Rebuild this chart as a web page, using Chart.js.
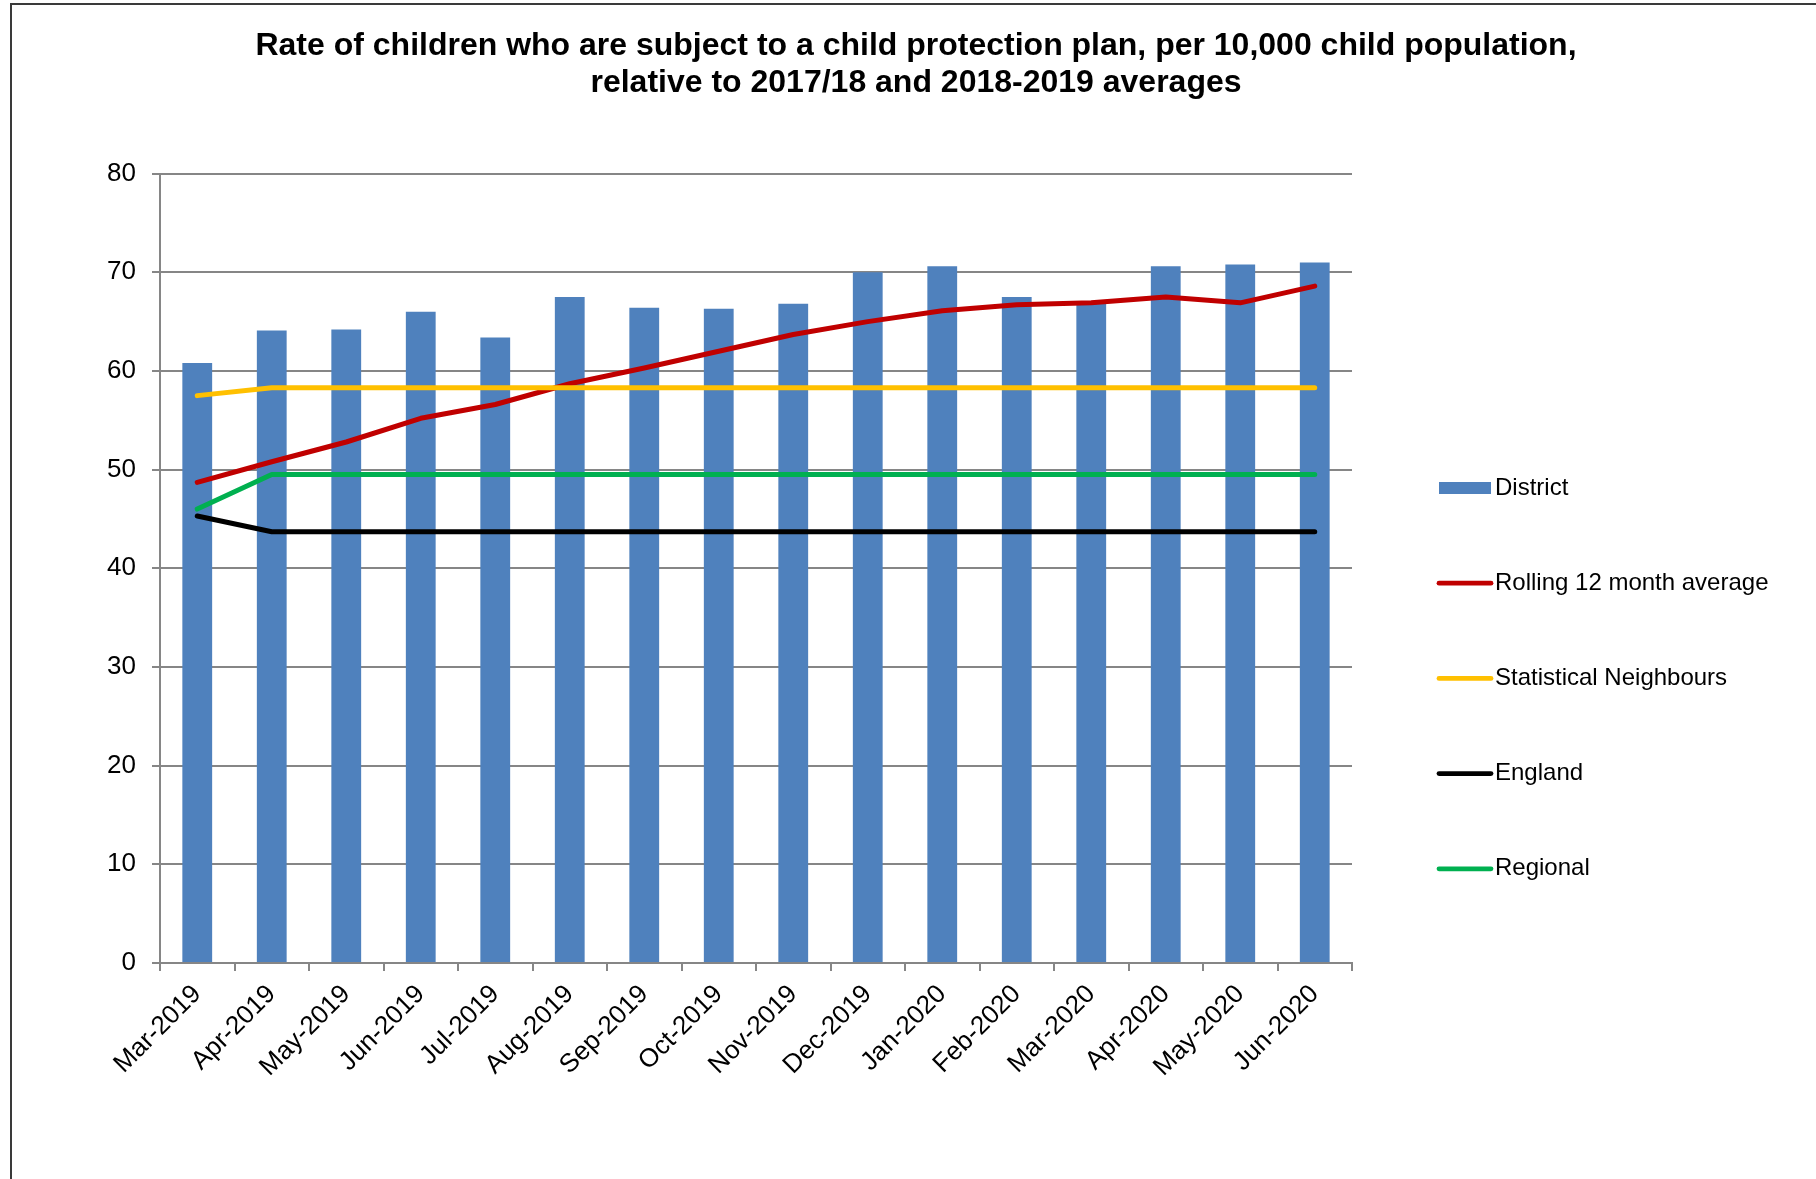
<!DOCTYPE html>
<html>
<head>
<meta charset="utf-8">
<script src="https://cdn.jsdelivr.net/npm/chart.js@4.4.0/dist/chart.umd.min.js"></script>
<style>
  html, body { margin: 0; padding: 0; background: #fff; overflow: hidden; }
  #frame {
    position: absolute; left: 10px; top: 3px;
    border-left: 2px solid #3a3a3a; border-top: 2px solid #3a3a3a;
    width: 1808px; height: 1174px;
  }
  canvas { display: block; }
</style>
</head>
<body>
<div id="frame"><canvas id="myChart" width="1808" height="1174"></canvas></div>
<script>
// datos
const months = ['Mar-2019', 'Apr-2019', 'May-2019', 'Jun-2019', 'Jul-2019', 'Aug-2019', 'Sep-2019', 'Oct-2019',
  'Nov-2019', 'Dec-2019', 'Jan-2020', 'Feb-2020', 'Mar-2020', 'Apr-2020', 'May-2020', 'Jun-2020'];
const district = [60.8, 64.1, 64.2, 66.0, 63.4, 67.5, 66.4, 66.3, 66.8, 70.0, 70.6, 67.5, 66.8, 70.6, 70.8, 71.0];
const rolling = [48.7, 50.8, 52.8, 55.2, 56.6, 58.7, 60.3, 62.0, 63.7, 65.0, 66.1, 66.7, 66.9, 67.5, 66.9, 68.6];
const statNeighbours = [57.5, 58.3, 58.3, 58.3, 58.3, 58.3, 58.3, 58.3, 58.3, 58.3, 58.3, 58.3, 58.3, 58.3, 58.3, 58.3];
const england = [45.3, 43.7, 43.7, 43.7, 43.7, 43.7, 43.7, 43.7, 43.7, 43.7, 43.7, 43.7, 43.7, 43.7, 43.7, 43.7];
const regional = [46.0, 49.5, 49.5, 49.5, 49.5, 49.5, 49.5, 49.5, 49.5, 49.5, 49.5, 49.5, 49.5, 49.5, 49.5, 49.5];
const yTicks = [0, 10, 20, 30, 40, 50, 60, 70, 80];

const FONT = '"Liberation Sans", Arial, sans-serif';
const GRID = '#868686';

const lineSet = (label, data, color, order) => ({
  type: 'line',
  label: label,
  data: data,
  borderColor: color,
  backgroundColor: color,
  borderWidth: 5,
  borderCapStyle: 'round',
  borderJoinStyle: 'round',
  pointRadius: 0,
  tension: 0,
  order: order,
});

// leyenda a la derecha (como en Excel)
const sideLegend = {
  id: 'sideLegend',
  afterDraw(chart) {
    const ctx = chart.ctx;
    const x0 = chart.chartArea.right + 87;
    const x1 = x0 + 52;
    let y = 483;
    ctx.save();
    chart.data.datasets.forEach((ds) => {
      if (ds.type === 'bar') {
        ctx.fillStyle = ds.backgroundColor;
        ctx.fillRect(x0, y - 6, x1 - x0, 12);
      } else {
        ctx.strokeStyle = ds.borderColor;
        ctx.lineWidth = 4.8;
        ctx.lineCap = 'round';
        ctx.beginPath();
        ctx.moveTo(x0, y);
        ctx.lineTo(x1, y);
        ctx.stroke();
      }
      ctx.fillStyle = '#000';
      ctx.font = '24px ' + FONT;
      ctx.textBaseline = 'middle';
      ctx.textAlign = 'left';
      ctx.fillText(ds.label, x1 + 4, y);
      y += 95.2;
    });
    ctx.restore();
  }
};

const ctx = document.getElementById('myChart').getContext('2d');
const myChart = new Chart(ctx, {
  type: 'bar',
  data: {
    labels: months,
    datasets: [
      {
        type: 'bar',
        label: 'District',
        data: district,
        backgroundColor: '#4F81BD',
        categoryPercentage: 1,
        barPercentage: 0.4,
        order: 10,
      },
      lineSet('Rolling 12 month average', rolling, '#C00000', 4),
      lineSet('Statistical Neighbours', statNeighbours, '#FFC000', 3),
      lineSet('England', england, '#000000', 2),
      lineSet('Regional', regional, '#00B050', 1),
    ]
  },
  options: {
    responsive: false,
    animation: false,
    layout: { padding: 0 },
    plugins: {
      legend: { display: false },
      tooltip: { enabled: false },
      title: {
        display: true,
        text: ['Rate of children who are subject to a child protection plan, per 10,000 child population,',
               'relative to 2017/18 and 2018-2019 averages'],
        color: '#000',
        font: { family: FONT, size: 32, weight: 'bold', lineHeight: 1.15 },
        padding: { top: 23, bottom: 72 },
      },
    },
    scales: {
      x: {
        offset: true,
        grid: { offset: true, drawOnChartArea: false, drawTicks: true, tickLength: 8, color: GRID, lineWidth: 2 },
        border: { color: GRID, width: 2 },
        ticks: {
          color: '#000',
          font: { family: FONT, size: 26 },
          minRotation: 45,
          maxRotation: 45,
          padding: 8,
          autoSkip: false,
        },
        afterFit: (scale) => { scale.height = 216; },
      },
      y: {
        min: 0,
        max: 80,
        afterBuildTicks: (scale) => { scale.ticks = yTicks.map(v => ({ value: v })); },
        grid: { color: GRID, lineWidth: 2, tickLength: 8 },
        border: { color: GRID, width: 2 },
        ticks: { color: '#000', font: { family: FONT, size: 26 }, padding: 16 },
        afterFit: (scale) => { scale.width = 148; },
      },
      yPad: {
        position: 'right',
        display: true,
        grid: { display: false },
        border: { display: false },
        ticks: { display: false },
        afterFit: (scale) => { scale.width = 468; },
      },
    },
  },
  plugins: [sideLegend],
});
</script>
</body>
</html>
